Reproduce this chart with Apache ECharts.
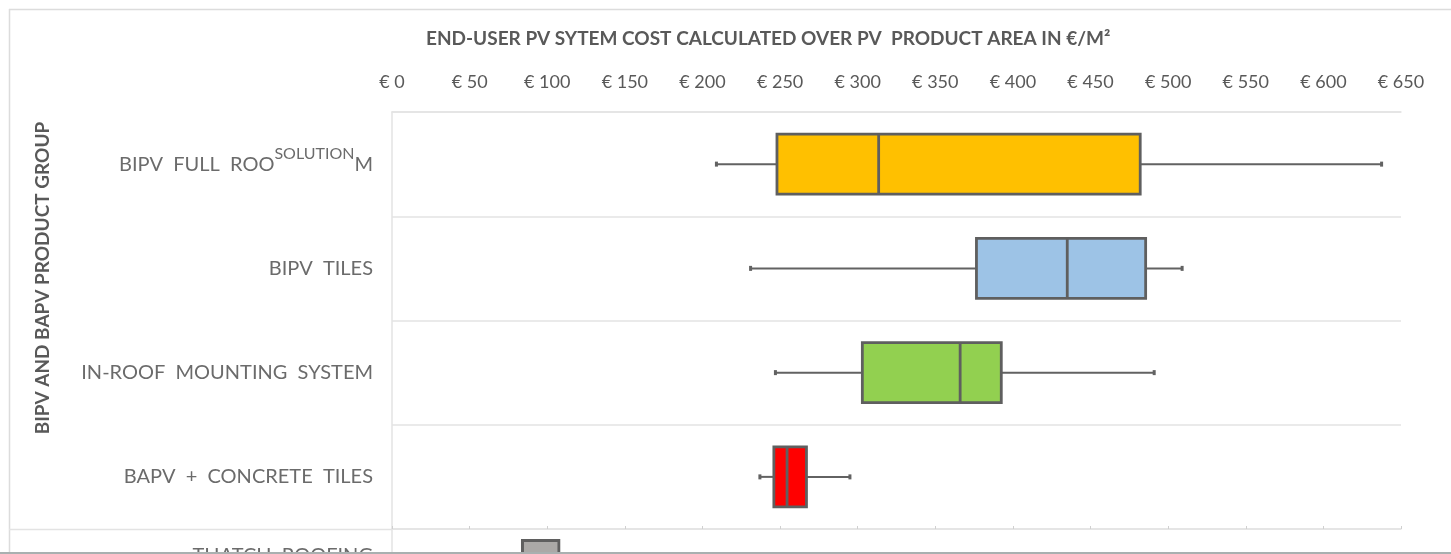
<!DOCTYPE html>
<html><head><meta charset="utf-8">
<script src="https://cdn.jsdelivr.net/npm/echarts@6.0.0/dist/echarts.min.js"></script>
<style>html,body{margin:0;padding:0;background:#fff}#c{width:1451px;height:554px}</style>
</head><body><div id="c"></div>
<script>
// ---- data ----
const categories = ['BIPV FULL ROOF SOLUTION', 'BIPV TILES', 'IN-ROOF MOUNTING SYSTEM', 'BAPV + CONCRETE TILES'];
const minValues    = [209,   231,   247,   237];
const q1Values     = [248,   376.5, 303,   246];
const medianValues = [313.5, 435,   366,   254.5];
const q3Values     = [482,   485.5, 392.5, 267];
const maxValues    = [637.5, 509,   491,   295];

const categories2 = ['THATCH ROOFING'];
const minValues2    = [70];
const q1Values2     = [84];
const medianValues2 = [84];
const q3Values2     = [107.5];
const maxValues2    = [125];

const axisMin = 0, axisMax = 650, axisStep = 50;
const tickPrefix = '€ ';
const chartTitle = 'END-USER PV SYTEM COST CALCULATED OVER PV  PRODUCT AREA IN €/M²';
const groupLabel = 'BIPV AND BAPV PRODUCT GROUP';

// ---- style ----
const boxColors = ['#FFC000', '#9DC3E6', '#92D050', '#FF0000'];
const boxColors2 = ['#ABA9A7'];
const FONT = 'Lato, "Open Sans", sans-serif';
const GRID_LINE = '#e3e3e3';

function build(mins, q1s, meds, q3s, maxs) {
  return mins.map((m, i) => [i, m, q1s[i], meds[i], q3s[i], maxs[i]]);
}

function makeRender(colors, ratio) {
  return function (params, api) {
    const idx = api.value(0);
    const pMin = api.coord([api.value(1), idx]);
    const pQ1 = api.coord([api.value(2), idx]);
    const pMed = api.coord([api.value(3), idx]);
    const pQ3 = api.coord([api.value(4), idx]);
    const pMax = api.coord([api.value(5), idx]);
    const band = api.size([0, 1])[1];
    const h = band * ratio;
    const cy = pMed[1];
    const stroke = { stroke: '#626262', lineWidth: 2 };
    const cap = 2.5;
    return {
      type: 'group',
      children: [
        { type: 'line', shape: { x1: pMin[0], y1: cy, x2: pQ1[0], y2: cy }, style: stroke },
        { type: 'line', shape: { x1: pQ3[0], y1: cy, x2: pMax[0], y2: cy }, style: stroke },
        { type: 'line', shape: { x1: pMin[0], y1: cy - cap, x2: pMin[0], y2: cy + cap }, style: { stroke: '#626262', lineWidth: 3 } },
        { type: 'line', shape: { x1: pMax[0], y1: cy - cap, x2: pMax[0], y2: cy + cap }, style: { stroke: '#626262', lineWidth: 3 } },
        { type: 'rect', shape: { x: pQ1[0], y: cy - h / 2, width: pQ3[0] - pQ1[0], height: h },
          style: { fill: colors[idx % colors.length], stroke: '#5f5f5f', lineWidth: 2.8 } },
        { type: 'line', shape: { x1: pMed[0], y1: cy - h / 2, x2: pMed[0], y2: cy + h / 2 }, style: { stroke: '#5f5f5f', lineWidth: 2.8 } }
      ]
    };
  };
}

const catLabelStyle = {
  color: '#6b6b6b', fontFamily: FONT, fontSize: 20, margin: 19,
  formatter: function (v) {
    if (v === categories[0]) return '{a|BIPV  FULL  ROO}{s|SOLUTION}{a|M}';
    return '{a|' + v.replace(/ /g, '  ') + '}';
  },
  rich: {
    a: { color: '#6b6b6b', fontFamily: FONT, fontSize: 20, lineHeight: 36 },
    s: { color: '#6b6b6b', fontFamily: FONT, fontSize: 16, lineHeight: 16, verticalAlign: 'top' }
  }
};

const chart = echarts.init(document.getElementById('c'), null, { renderer: 'canvas' });
chart.setOption({
  backgroundColor: '#ffffff',
  animation: false,
  title: {
    text: chartTitle, left: 421, top: 24,
    textStyle: { fontFamily: FONT, fontWeight: 'bold', fontSize: 19, color: '#595959' }
  },
  grid: [
    { left: 392, right: 50, top: 112, height: 417, outerBoundsMode: 'none', containLabel: false },
    { left: 392, right: 50, top: 529, height: 54, outerBoundsMode: 'none', containLabel: false }
  ],
  xAxis: [
    {
      gridIndex: 0, type: 'value', position: 'top', min: axisMin, max: axisMax, interval: axisStep,
      axisLine: { show: true, lineStyle: { color: GRID_LINE, width: 1.5 } },
      axisTick: { show: false }, splitLine: { show: false },
      axisLabel: { margin: 21, color: '#595959', fontFamily: FONT, fontSize: 18, formatter: v => tickPrefix + v }
    },
    {
      gridIndex: 1, type: 'value', position: 'top', min: axisMin, max: axisMax, interval: axisStep,
      axisLine: { show: true, lineStyle: { color: GRID_LINE, width: 1.5 } },
      axisTick: { show: true, length: 3, lineStyle: { color: '#d0d0d0' } }, splitLine: { show: false },
      axisLabel: { show: false }
    }
  ],
  yAxis: [
    {
      gridIndex: 0, type: 'category', data: categories, inverse: true,
      axisLine: { show: true, lineStyle: { color: GRID_LINE, width: 1.5 } },
      axisTick: { show: false },
      splitLine: { show: true, lineStyle: { color: GRID_LINE, width: 1.5 } },
      axisLabel: catLabelStyle
    },
    {
      gridIndex: 1, type: 'category', data: categories2, inverse: true,
      axisLine: { show: true, lineStyle: { color: GRID_LINE, width: 1.5 } },
      axisTick: { show: false },
      splitLine: { show: false },
      axisLabel: catLabelStyle
    }
  ],
  graphic: [
    { type: 'line', shape: { x1: 9, y1: 9.5, x2: 1451, y2: 9.5 }, style: { stroke: '#dcdcdc', lineWidth: 1.5 }, silent: true },
    { type: 'line', shape: { x1: 9.5, y1: 9, x2: 9.5, y2: 554 }, style: { stroke: '#dcdcdc', lineWidth: 1.5 }, silent: true },
    { type: 'line', shape: { x1: 9, y1: 529.5, x2: 392, y2: 529.5 }, style: { stroke: GRID_LINE, lineWidth: 1.5 }, silent: true },
    { type: 'text', x: 43, y: 278, rotation: Math.PI / 2,
      style: { text: groupLabel, fontFamily: FONT, fontWeight: 'bold', fontSize: 19, fill: '#595959', align: 'center', verticalAlign: 'middle' }, silent: true },
    { type: 'rect', shape: { x: 0, y: 552, width: 1451, height: 2 }, style: { fill: '#a9b0b0' }, silent: true, z: 100 }
  ],
  series: [
    {
      type: 'custom', xAxisIndex: 0, yAxisIndex: 0,
      renderItem: makeRender(boxColors, 0.575),
      encode: { x: [1, 2, 3, 4, 5], y: 0 },
      data: build(minValues, q1Values, medianValues, q3Values, maxValues)
    },
    {
      type: 'custom', xAxisIndex: 1, yAxisIndex: 1,
      renderItem: makeRender(boxColors2, 0.575),
      encode: { x: [1, 2, 3, 4, 5], y: 0 },
      data: build(minValues2, q1Values2, medianValues2, q3Values2, maxValues2)
    }
  ]
});
</script>
</body></html>
